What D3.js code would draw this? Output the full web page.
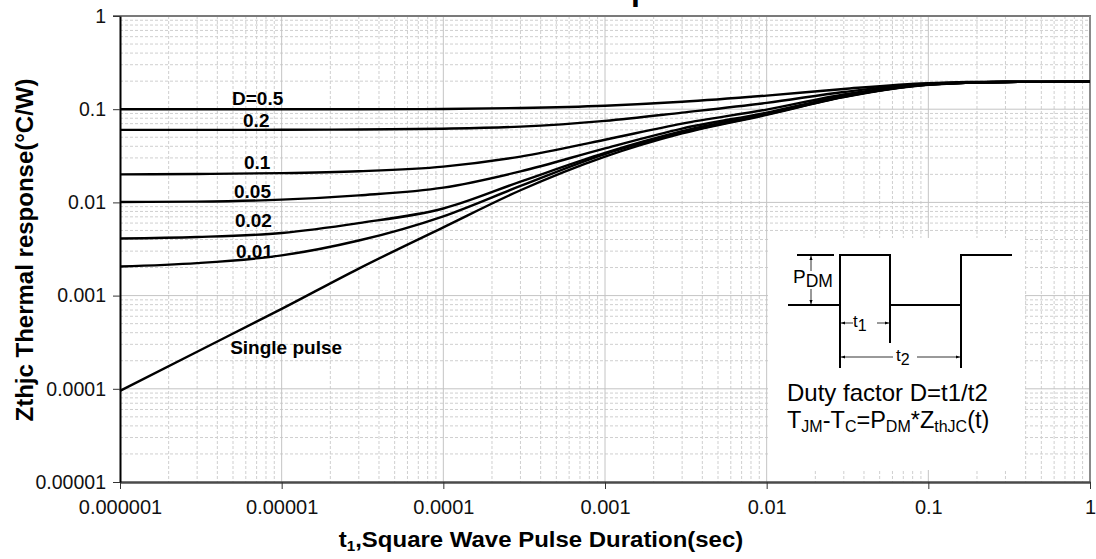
<!DOCTYPE html>
<html>
<head>
<meta charset="utf-8">
<script src="https://cdn.jsdelivr.net/npm/d3@7"></script>
<style>
  html, body { margin: 0; padding: 0; background: #fff; }
  svg { display: block; font-family: "Liberation Sans", Arial, sans-serif; }
</style>
</head>
<body>
<svg id="chart" width="1096" height="559"></svg>
<script>
// Pulse durations (s) at which each curve is sampled
const pulseTimes = [1e-6, 3e-6, 1e-5, 3e-5, 1e-4, 3e-4, 1e-3, 3e-3, 1e-2, 3e-2, 1e-1, 3e-1, 1];

// Thermal response Zthjc (°C/W) for each duty factor
const zSingle = [9.5e-5, 2.5e-4, 7.2e-4, 1.95e-3, 5.4e-3, 0.0135, 0.031, 0.055, 0.087, 0.135, 0.183, 0.196, 0.197];
const zD001   = [0.00205, 0.00223, 0.0027, 0.0039, 0.0071, 0.0150, 0.033, 0.056, 0.088, 0.136, 0.184, 0.196, 0.197];
const zD002   = [0.0041, 0.00425, 0.0047, 0.0060, 0.0086, 0.0167, 0.034, 0.058, 0.089, 0.137, 0.184, 0.196, 0.197];
const zD005   = [0.0101, 0.0102, 0.0107, 0.0119, 0.0144, 0.0215, 0.038, 0.062, 0.092, 0.139, 0.185, 0.196, 0.197];
const zD01    = [0.0200, 0.0202, 0.0206, 0.0216, 0.0242, 0.0310, 0.047, 0.070, 0.099, 0.144, 0.186, 0.196, 0.197];
const zD02    = [0.0600, 0.0600, 0.0601, 0.0606, 0.0618, 0.0650, 0.075, 0.092, 0.117, 0.153, 0.188, 0.196, 0.197];
const zD05    = [0.1000, 0.1000, 0.1000, 0.1000, 0.1005, 0.1030, 0.109, 0.120, 0.140, 0.165, 0.190, 0.197, 0.197];

const curveLabels = ["D=0.5", "0.2", "0.1", "0.05", "0.02", "0.01", "Single pulse"];
const curveSeries = [zD05, zD02, zD01, zD005, zD002, zD001, zSingle];
// where each curve's label sits (left end of baseline): [pulse time, response]
const labelAnchors = [[4.93e-6, 0.111], [5.77e-6, 0.0644], [5.85e-6, 0.0228], [5.07e-6, 0.01114],
                      [5.14e-6, 0.00545], [5.22e-6, 0.00253], [4.8e-6, 0.000236]];

const xTickValues = [1e-6, 1e-5, 1e-4, 1e-3, 1e-2, 1e-1, 1];
const xTickLabels = ["0.000001", "0.00001", "0.0001", "0.001", "0.01", "0.1", "1"];
const yTickValues = [1e-5, 1e-4, 1e-3, 1e-2, 1e-1, 1];
const yTickLabels = ["0.00001", "0.0001", "0.001", "0.01", "0.1", "1"];

const svg = d3.select("#chart");
const plot = { left: 120, right: 1090, top: 16, bottom: 482 };

const x = d3.scaleLog().domain([1e-6, 1]).range([plot.left, plot.right]);
const y = d3.scaleLog().domain([1e-5, 1]).range([plot.bottom, plot.top]);

// Title (sits mostly above the visible page)
const title = svg.append("text")
  .attr("y", 0)
  .attr("font-size", 32)
  .attr("font-weight", "bold")
  .attr("fill", "#000")
  .text("Transient Thermal Impedance");
const pIndex = "Transient Thermal Im".length;
const pOffset = title.node().getSubStringLength(0, pIndex);
title.attr("x", 631 - pOffset);

// Grid: minor (2..9) dashed, decades solid
const minorVals = (lo, hi) => {
  const out = [];
  for (let e = lo; e < hi; e++) for (let m = 2; m <= 9; m++) out.push(m * Math.pow(10, e));
  return out;
};
const grid = svg.append("g");
grid.selectAll(".vminor").data(minorVals(-6, 0)).enter().append("line")
  .attr("x1", d => x(d)).attr("x2", d => x(d))
  .attr("y1", plot.top).attr("y2", plot.bottom)
  .attr("stroke", "#cfcfcf").attr("stroke-width", 1).attr("stroke-dasharray", "3,2");
grid.selectAll(".hminor").data(minorVals(-5, 0)).enter().append("line")
  .attr("x1", plot.left).attr("x2", plot.right)
  .attr("y1", d => y(d)).attr("y2", d => y(d))
  .attr("stroke", "#cfcfcf").attr("stroke-width", 1).attr("stroke-dasharray", "3,2");
grid.selectAll(".vmajor").data(xTickValues.slice(1, -1)).enter().append("line")
  .attr("x1", d => x(d)).attr("x2", d => x(d))
  .attr("y1", plot.top).attr("y2", plot.bottom)
  .attr("stroke", "#c4c4c4").attr("stroke-width", 1);
grid.selectAll(".hmajor").data(yTickValues.slice(1, -1)).enter().append("line")
  .attr("x1", plot.left).attr("x2", plot.right)
  .attr("y1", d => y(d)).attr("y2", d => y(d))
  .attr("stroke", "#c4c4c4").attr("stroke-width", 1);

// Inset panel background
const inset = { x0: 768, y0: 238, x1: 1025, y1: 470 };
svg.append("rect")
  .attr("x", inset.x0).attr("y", inset.y0)
  .attr("width", inset.x1 - inset.x0).attr("height", inset.y1 - inset.y0)
  .attr("fill", "#fff");

// Plot frame: top and right in grey
svg.append("line").attr("x1", plot.left - 7).attr("x2", plot.right + 1)
  .attr("y1", plot.top).attr("y2", plot.top).attr("stroke", "#7a7a7a").attr("stroke-width", 2);
svg.append("line").attr("x1", plot.right).attr("x2", plot.right)
  .attr("y1", plot.top).attr("y2", plot.bottom).attr("stroke", "#8a8a8a").attr("stroke-width", 2);

// Curves
const line = d3.line()
  .x((d, i) => x(pulseTimes[i]))
  .y(d => y(d))
  .curve(d3.curveMonotoneX);
svg.append("g").selectAll("path").data(curveSeries).enter().append("path")
  .attr("d", d => line(d))
  .attr("fill", "none")
  .attr("stroke", "#000")
  .attr("stroke-width", 2.4)
  .attr("stroke-linejoin", "round");

// Curve labels
svg.append("g").selectAll("text").data(curveLabels).enter().append("text")
  .attr("x", (d, i) => x(labelAnchors[i][0]))
  .attr("y", (d, i) => y(labelAnchors[i][1]))
  .attr("font-size", 19)
  .attr("font-weight", "bold")
  .attr("fill", "#000")
  .text(d => d);

// Axes
const xAxis = d3.axisBottom(x).tickValues(xTickValues)
  .tickFormat((d, i) => xTickLabels[i]).tickSize(7).tickSizeOuter(0);
const gx = svg.append("g").attr("transform", `translate(0,${plot.bottom})`).call(xAxis);
gx.select(".domain").attr("stroke", "#4a4a4a").attr("stroke-width", 2.5);
gx.selectAll(".tick line").attr("stroke", "#333").attr("stroke-width", 1);
gx.selectAll(".tick text").attr("font-size", 20).attr("fill", "#111")
  .attr("font-family", "Liberation Sans, Arial, sans-serif").attr("y", 32).attr("dy", 0);

const yAxis = d3.axisLeft(y).tickValues(yTickValues)
  .tickFormat((d, i) => yTickLabels[i]).tickSize(7).tickSizeOuter(0);
const gy = svg.append("g").attr("transform", `translate(${plot.left},0)`).call(yAxis);
gy.select(".domain").attr("stroke", "#000").attr("stroke-width", 2);
gy.selectAll(".tick line").attr("stroke", "#333").attr("stroke-width", 1);
gy.selectAll(".tick text").attr("font-size", 19.5).attr("fill", "#111")
  .attr("font-family", "Liberation Sans, Arial, sans-serif").attr("x", -14);

// Axis titles
const xt = svg.append("text")
  .attr("transform", "translate(541,547) scale(1.09,1)")
  .attr("text-anchor", "middle")
  .attr("font-size", 22).attr("font-weight", "bold").attr("fill", "#000");
xt.append("tspan").text("t");
xt.append("tspan").attr("font-size", 14).attr("dy", 4).text("1");
xt.append("tspan").attr("dy", -4).text(",Square Wave Pulse Duration(sec)");

svg.append("text")
  .attr("transform", "translate(33,250) rotate(-90)")
  .attr("text-anchor", "middle")
  .attr("font-size", 24).attr("font-weight", "bold").attr("fill", "#000")
  .text("Zthjc Thermal response(°C/W)");

// Inset: pulse train diagram
const ins = svg.append("g");
const hi = 255, lo = 305;
const tA = 840, tB = 890, tC = 961;
ins.append("path")
  .attr("d", `M788,${lo} H${tA} V${hi} H${tB} V${lo} H${tC} V${hi} H1012`)
  .attr("fill", "none").attr("stroke", "#000").attr("stroke-width", 2);
ins.append("line").attr("x1", 797).attr("x2", 834).attr("y1", hi).attr("y2", hi)
  .attr("stroke", "#000").attr("stroke-width", 2);
// extension lines for t1 / t2
ins.append("line").attr("x1", tA).attr("x2", tA).attr("y1", lo).attr("y2", 368).attr("stroke", "#000").attr("stroke-width", 2);
ins.append("line").attr("x1", tB).attr("x2", tB).attr("y1", lo).attr("y2", 343).attr("stroke", "#000").attr("stroke-width", 2);
ins.append("line").attr("x1", tC).attr("x2", tC).attr("y1", lo).attr("y2", 368).attr("stroke", "#000").attr("stroke-width", 2);

const defs = svg.append("defs");
defs.append("marker").attr("id", "arr").attr("viewBox", "0 0 10 10")
  .attr("refX", 10).attr("refY", 5).attr("markerWidth", 7).attr("markerHeight", 5)
  .attr("orient", "auto-start-reverse")
  .append("path").attr("d", "M0,1 L10,5 L0,9 Z").attr("fill", "#000");

const dim = (x1, y1, x2, y2) => ins.append("line")
  .attr("x1", x1).attr("y1", y1).attr("x2", x2).attr("y2", y2)
  .attr("stroke", "#000").attr("stroke-width", 0.8)
  .attr("marker-start", "url(#arr)").attr("marker-end", "url(#arr)");
dim(811, hi + 1, 811, lo - 1);
dim(tA + 1, 323, tB - 1, 323);
dim(tA + 1, 357, tC - 1, 357);

// labels inside the diagram
const lblBg = (cx, cy, w) => ins.append("rect").attr("x", cx - w / 2).attr("y", cy - 9)
  .attr("width", w).attr("height", 18).attr("fill", "#fff");
lblBg(865, 323, 24);
lblBg(905, 357, 24);
lblBg(815, 280, 44);

const sub = (xx, yy, main, s, fs, sfs) => {
  const t = ins.append("text").attr("x", xx).attr("y", yy).attr("font-size", fs).attr("fill", "#000");
  t.append("tspan").text(main);
  t.append("tspan").attr("font-size", sfs).attr("dy", 4).text(s);
  return t;
};
sub(793, 283, "P", "DM", 19, 17.5);
sub(853, 327, "t", "1", 17, 16);
sub(896, 361, "t", "2", 17, 16);

ins.append("text").attr("x", 787).attr("y", 401).attr("font-size", 24).attr("fill", "#000")
  .text("Duty factor D=t1/t2");
const f = ins.append("text").attr("x", 787).attr("y", 428).attr("font-size", 23.5).attr("fill", "#000");
f.append("tspan").text("T");
f.append("tspan").attr("font-size", 16).attr("dy", 4).text("JM");
f.append("tspan").attr("dy", -4).text("-T");
f.append("tspan").attr("font-size", 16).attr("dy", 4).text("C");
f.append("tspan").attr("dy", -4).text("=P");
f.append("tspan").attr("font-size", 16).attr("dy", 4).text("DM");
f.append("tspan").attr("dy", -4).text("*Z");
f.append("tspan").attr("font-size", 16).attr("dy", 4).text("thJC");
f.append("tspan").attr("dy", -4).text("(t)");
</script>
</body>
</html>
